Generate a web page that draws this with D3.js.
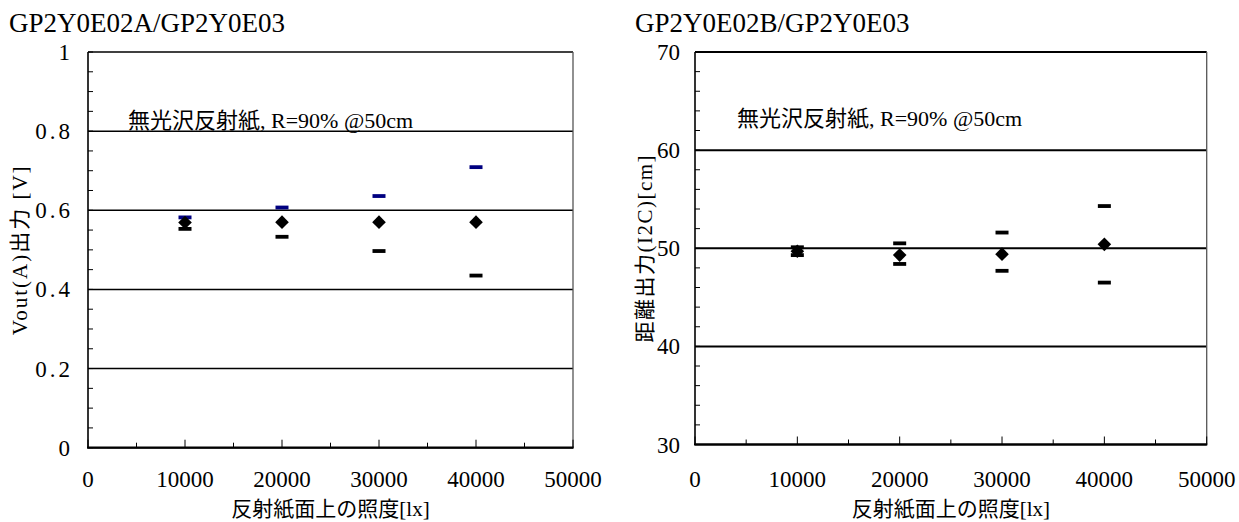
<!DOCTYPE html>
<html>
<head>
<meta charset="utf-8">
<script src="https://cdn.jsdelivr.net/npm/d3@7/dist/d3.min.js"></script>
<style>
  body { margin: 0; background: #fff; }
  svg { display: block; }
</style>
</head>
<body>
<svg id="chart" width="1239" height="522"></svg>
<script>
// ---- data ----
const lux = [10000, 20000, 30000, 40000];
const voutAvg = [0.569, 0.570, 0.570, 0.570];
const voutMax = [0.582, 0.607, 0.636, 0.709];
const voutMin = [0.553, 0.533, 0.497, 0.435];
const distAvg = [49.7, 49.3, 49.4, 50.4];
const distMax = [50.1, 50.5, 51.6, 54.3];
const distMin = [49.3, 48.4, 47.7, 46.5];
const xTicks = [0, 10000, 20000, 30000, 40000, 50000];
const voutTicks = [0, 0.2, 0.4, 0.6, 0.8, 1];
const distTicks = [30, 40, 50, 60, 70];
const titleA = "GP2Y0E02A/GP2Y0E03";
const titleB = "GP2Y0E02B/GP2Y0E03";
const note = "無光沢反射紙, R=90% @50cm";
const xTitle = "反射紙面上の照度[lx]";
const yTitleA = "Vout(A)出力 [V]";
const yTitleB = "距離出力(I2C)[cm]";

const FONT = "Liberation Serif, DejaVu Serif, Noto Sans CJK JP, serif";
const svg = d3.select("#chart").attr("font-family", FONT);

function panel(cfg) {
  const g = svg.append("g").attr("font-family", FONT);
  const x = d3.scaleLinear().domain([0, 50000]).range([cfg.left, cfg.right]);
  const y = d3.scaleLinear().domain(cfg.yDomain).range([cfg.bottom, cfg.top]);

  // title
  g.append("text").attr("x", cfg.titleX).attr("y", 32)
    .attr("font-size", 27).text(cfg.title);

  // gridlines at major y ticks
  g.selectAll("line.grid").data(cfg.yTicks).join("line")
    .attr("x1", cfg.left).attr("x2", cfg.right)
    .attr("y1", d => y(d)).attr("y2", d => y(d))
    .attr("stroke", "#000").attr("stroke-width", cfg.gridW);

  // right border
  g.append("line").attr("x1", cfg.right).attr("x2", cfg.right)
    .attr("y1", cfg.top).attr("y2", cfg.bottom)
    .attr("stroke", "#555").attr("stroke-width", 1.3);

  // y minor ticks (inward)
  const yMinor = d3.range(cfg.yDomain[0], cfg.yDomain[1] + 1e-9, cfg.yMinorStep);
  g.selectAll("line.ymin").data(yMinor).join("line")
    .attr("x1", cfg.left).attr("x2", cfg.left + 5)
    .attr("y1", d => y(d)).attr("y2", d => y(d))
    .attr("stroke", "#000").attr("stroke-width", 1);

  // x ticks (inward)
  const xAll = d3.range(0, 50001, 5000);
  g.selectAll("line.xt").data(xAll).join("line")
    .attr("x1", d => x(d)).attr("x2", d => x(d))
    .attr("y1", cfg.bottom).attr("y2", d => cfg.bottom - (d % 10000 === 0 ? 8 : 5))
    .attr("stroke", "#000").attr("stroke-width", 1);

  // axes lines
  g.append("line").attr("x1", cfg.left).attr("x2", cfg.left)
    .attr("y1", cfg.top).attr("y2", cfg.bottom)
    .attr("stroke", "#000").attr("stroke-width", 1.6);
  g.append("line").attr("x1", cfg.left - 1).attr("x2", cfg.right + 0.6)
    .attr("y1", cfg.bottom).attr("y2", cfg.bottom)
    .attr("stroke", "#000").attr("stroke-width", 2.2);

  // y tick labels
  g.selectAll("text.yl").data(cfg.yTicks).join("text")
    .attr("x", cfg.left - cfg.yLabelGap).attr("y", d => y(d) + 8)
    .attr("text-anchor", "end").attr("font-size", 23)
    .attr("letter-spacing", cfg.ySpacing)
    .text(cfg.yFormat);

  // x tick labels
  g.selectAll("text.xl").data(xTicks).join("text")
    .attr("x", d => x(d)).attr("y", 487)
    .attr("text-anchor", "middle").attr("font-size", 23)
    .text(d => String(d));

  // axis titles
  g.append("text").attr("x", (cfg.left + cfg.right) / 2).attr("y", 516)
    .attr("text-anchor", "middle").attr("font-size", 21).text(xTitle);
  g.append("text")
    .attr("transform", `translate(${cfg.yTitleX},${(cfg.top + cfg.bottom) / 2}) rotate(-90)`)
    .attr("text-anchor", "middle").attr("dy", "0.35em").attr("font-size", 21)
    .attr("letter-spacing", cfg.yTitleSpacing)
    .text(cfg.yTitle);

  // annotation
  g.append("text").attr("x", cfg.noteX).attr("y", cfg.noteY)
    .attr("font-size", 22).text(note);

  // markers: max dash, min dash, average diamond
  const dashW = 13, dashH = 3.8;
  g.selectAll("rect.max").data(lux).join("rect")
    .attr("x", d => x(d) - dashW / 2)
    .attr("y", (d, i) => y(cfg.max[i]) - dashH / 2)
    .attr("width", dashW).attr("height", dashH).attr("fill", cfg.maxColor);
  g.selectAll("rect.min").data(lux).join("rect")
    .attr("x", d => x(d) - dashW / 2)
    .attr("y", (d, i) => y(cfg.min[i]) - dashH / 2)
    .attr("width", dashW).attr("height", dashH).attr("fill", "#000");
  const sym = d3.symbol().type(d3.symbolDiamond2).size(118);
  g.selectAll("path.avg").data(lux).join("path")
    .attr("transform", (d, i) => `translate(${x(d)},${y(cfg.avg[i])})`)
    .attr("d", sym).attr("fill", "#000");
}

panel({
  left: 88, right: 573, top: 52, bottom: 447.7,
  yDomain: [0, 1], yTicks: voutTicks, yMinorStep: 0.05,
  yFormat: d => d === 0 || d === 1 ? String(d) : d.toFixed(1),
  ySpacing: 3, yLabelGap: 15,
  title: titleA, titleX: 9,
  yTitle: yTitleA, yTitleX: 20, yTitleSpacing: 2,
  noteX: 128, noteY: 128,
  avg: voutAvg, max: voutMax, min: voutMin,
  maxColor: "#000080", gridW: 1.5
});

panel({
  left: 695, right: 1206.7, top: 52, bottom: 444.5,
  yDomain: [30, 70], yTicks: distTicks, yMinorStep: 2,
  yFormat: d => String(d),
  ySpacing: 0, yLabelGap: 15,
  title: titleB, titleX: 635,
  yTitle: yTitleB, yTitleX: 645, yTitleSpacing: 1.5,
  noteX: 737, noteY: 126,
  avg: distAvg, max: distMax, min: distMin,
  maxColor: "#000", gridW: 2
});
</script>
</body>
</html>
